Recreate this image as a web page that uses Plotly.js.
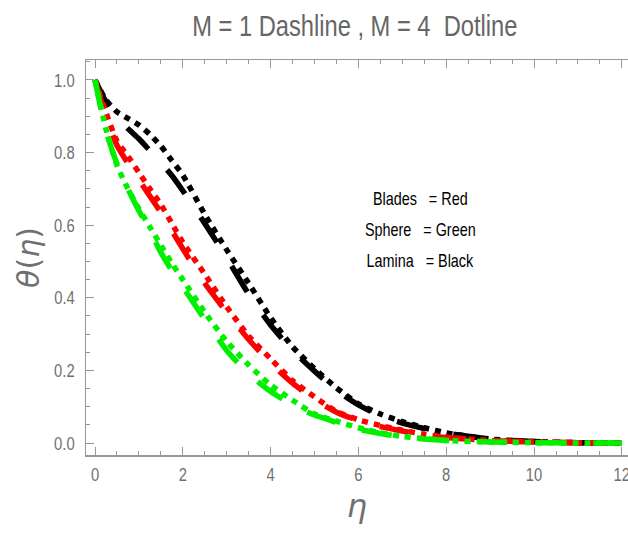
<!DOCTYPE html>
<html>
<head>
<meta charset="utf-8">
<script src="https://cdn.plot.ly/plotly-3.0.1.min.js"></script>
<style>html,body{margin:0;padding:0;background:#fff;}#chart{width:628px;height:533px;}</style>
</head>
<body>
<div id="chart"></div>
<script>
// eta grid
const eta = [0,0.25,0.5,0.75,1,1.25,1.5,1.75,2,2.5,3,3.5,4,4.5,5,5.5,6,6.5,7,7.5,8,9,10,11,12];

// Lamina (Black)
const laminaM1 = [1,0.94,0.9,0.866,0.838,0.805,0.772,0.737,0.695,0.605,0.51,0.41,0.325,0.255,0.198,0.145,0.105,0.075,0.055,0.04,0.027,0.011,0.004,0.001,0];
const laminaM4 = [1,0.945,0.912,0.894,0.876,0.85,0.818,0.778,0.738,0.63,0.532,0.44,0.345,0.265,0.205,0.152,0.108,0.08,0.059,0.042,0.028,0.011,0.004,0.001,0];

// Blades (Red)
const bladesM1 = [1,0.9,0.82,0.77,0.725,0.68,0.635,0.585,0.535,0.44,0.36,0.285,0.22,0.165,0.12,0.085,0.062,0.045,0.033,0.023,0.015,0.007,0.003,0.001,0];
const bladesM4 = [1,0.91,0.832,0.79,0.745,0.70,0.657,0.605,0.553,0.465,0.375,0.295,0.232,0.172,0.127,0.087,0.064,0.048,0.035,0.024,0.016,0.007,0.003,0.001,0];

// Sphere (Green)
const sphereM1 = [1,0.86,0.77,0.70,0.64,0.585,0.525,0.475,0.43,0.34,0.255,0.19,0.142,0.105,0.077,0.057,0.038,0.026,0.017,0.011,0.007,0.003,0.001,0,0];
const sphereM4 = [1,0.865,0.765,0.70,0.645,0.595,0.545,0.495,0.45,0.36,0.28,0.215,0.16,0.118,0.08,0.06,0.042,0.028,0.018,0.012,0.007,0.003,0.001,0,0];

const xTickVals = [0,2,4,6,8,10,12];
const xTickText = ['0','2','4','6','8','10','12'];
const yTickVals = [0,0.2,0.4,0.6,0.8,1.0];
const yTickText = ['0.0','0.2','0.4','0.6','0.8','1.0'];

const titleText = "M = 1 Dashline , M = 4\u00A0\u00A0Dotline";
const legendLines = [
  "Blades\u00A0\u00A0\u00A0= Red",
  "Sphere\u00A0\u00A0\u00A0= Green",
  "Lamina\u00A0\u00A0\u00A0= Black"
];

const FONT = "'Liberation Sans', Arial, sans-serif";
const DASH = "30px,28px";
const DOT = "6px,6px";
const GREEN = '#00f000';

function tr(y, color, dash) {
  return {x: eta, y: y, mode: 'lines', type: 'scatter',
    line: {color: color, width: 5.5, dash: dash, shape: 'spline', smoothing: 0.6},
    hoverinfo: 'skip', showlegend: false};
}

const data = [
  tr(laminaM1, '#000000', DASH),
  tr(laminaM4, '#000000', DOT),
  tr(bladesM1, '#ff0000', DASH),
  tr(bladesM4, '#ff0000', DOT),
  tr(sphereM1, GREEN, DASH),
  tr(sphereM4, GREEN, DOT)
];

const axisCommon = {
  showgrid: false, zeroline: false, showline: true, linecolor: '#999999', linewidth: 1.5,
  ticks: 'inside', ticklen: 8, tickcolor: '#999999', tickwidth: 1,
  tickfont: {family: FONT, size: 19, color: '#707070'}
};

const layout = {
  width: 628, height: 533,
  margin: {l: 86, r: 0, t: 60, b: 78, pad: 0},
  paper_bgcolor: '#ffffff', plot_bgcolor: '#ffffff',
  showlegend: false,
  title: {text: titleText, font: {family: FONT, size: 30, color: '#666666'},
    x: 0.565, xanchor: 'center', y: 0.952, yanchor: 'middle'},
  xaxis: Object.assign({}, axisCommon, {
    range: [-0.205, 12.14], tickvals: xTickVals, ticktext: xTickText,
    mirror: 'ticks', ticklabeloverflow: 'allow', ticklabelstandoff: 2,
    minor: {dtick: 0.5, ticklen: 4, ticks: 'inside', tickcolor: '#999999', tickwidth: 1},
    title: {text: '<i>η</i>', font: {family: 'DejaVu Sans', size: 32, color: '#707070'}, standoff: 10}
  }),
  yaxis: Object.assign({}, axisCommon, {
    range: [-0.033, 1.055], tickvals: yTickVals, ticktext: yTickText,
    mirror: false, ticklabelstandoff: 6,
    minor: {dtick: 0.05, ticklen: 4, ticks: 'inside', tickcolor: '#999999', tickwidth: 1},
    title: {text: '<i>θ</i>(<i>η</i>)', font: {family: 'DejaVu Sans', size: 30, color: '#707070'}, standoff: 0}
  }),
  annotations: legendLines.map((t, i) => ({
    text: t, xref: 'paper', yref: 'paper', x: 0.618, y: 0.648 - i * 0.079,
    xanchor: 'center', yanchor: 'middle', showarrow: false,
    font: {family: FONT, size: 18, color: '#000000'}
  }))
};

// Narrow the Arial-like text horizontally to mimic the condensed reference typeface
function squeeze(selector, s) {
  document.querySelectorAll(selector).forEach(el => {
    const bb = el.getBBox();
    const anchor = el.getAttribute('text-anchor') || getComputedStyle(el).textAnchor;
    const ax = anchor === 'end' ? bb.x + bb.width : (anchor === 'start' ? bb.x : bb.x + bb.width / 2);
    const t = el.getAttribute('transform') || '';
    el.setAttribute('transform', t + ' translate(' + ax + ',0) scale(' + s + ',1) translate(' + (-ax) + ',0)');
  });
}

Plotly.newPlot('chart', data, layout, {displayModeBar: false, staticPlot: true}).then(() => {
  squeeze('#chart .xtick text', 0.78);
  squeeze('#chart .ytick text', 0.78);
  squeeze('#chart .gtitle', 0.79);
  squeeze('#chart .annotation-text', 0.8);
});
</script>
</body>
</html>
